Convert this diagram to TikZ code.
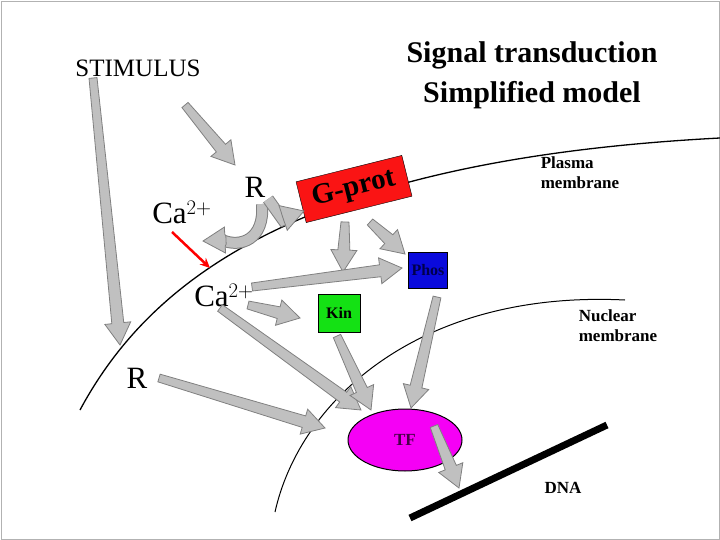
\documentclass[tikz,border=0pt]{standalone}
\usepackage{fontspec}
\setmainfont{Liberation Serif}
\usetikzlibrary{calc,positioning,shapes.geometric,arrows.meta}
\definecolor{silver}{RGB}{192,192,192}
\definecolor{gprot}{RGB}{250,20,20}
\definecolor{kin}{RGB}{20,225,20}
\definecolor{phos}{RGB}{10,10,220}
\definecolor{tf}{RGB}{245,0,245}
\tikzset{
	gfill/.style={fill=silver,draw=gray,line width=.8pt},
	gpath/.style={draw=gray,line width=12pt,postaction={draw=silver,line width=10pt}},
	lbl/.style={font=\bfseries\fontsize{17}{20}\selectfont,align=left},
	big/.style={font=\fontsize{31}{34}\selectfont},
	box/.style={draw=black,line width=1pt,inner sep=3pt,font=\bfseries\fontsize{16}{18}\selectfont},
}
% gray block arrow from #1 to #2
\newcommand\garrow[2]{%
	\path[gfill] ($(#1)!4pt!90:(#2)$)--($($(#2)!22pt!(#1)$)!6pt!90:(#2)$)
		--($($(#2)!22pt!(#1)$)!13pt!90:(#2)$)--(#2)
		--($($(#2)!22pt!(#1)$)!13pt!-90:(#2)$)--($($(#2)!22pt!(#1)$)!6pt!-90:(#2)$)
		--($(#1)!4pt!-90:(#2)$)--cycle;}
\begin{document}
\begin{tikzpicture}[x=1pt,y=-1pt]
	\useasboundingbox (0,0) rectangle (720,540);
	\draw[gray!60] (1,1) rectangle (719,539);
	% membranes
	\draw[line width=1.3pt] (80,410) .. controls (150,280) and (300,160) .. (720,138);
	\draw[line width=1pt] (275,512) .. controls (300,400) and (420,290) .. (625,300);
	\draw[line width=7pt] (410,518)--(607,425);
	% texts
	\node[font=\fontsize{25}{28}\selectfont] (stim) at (138,68) {STIMULUS};
	\node[font=\bfseries\fontsize{30}{40}\selectfont,align=center] (title) at (532,75) {Signal transduction\\Simplified model};
	\node[lbl] (plasma) at (580,173) {Plasma\\membrane};
	\node[lbl] (nuclear) at (618,326) {Nuclear\\membrane};
	\node[lbl] (dna) at (563,488) {DNA};
	\node[big] (r1) at (255,187) {R};
	\node[big] (r2) at (137,378) {R};
	\node[big] (ca1) at (182,212) {Ca$^{2+}$};
	\node[big] (ca2) at (224,295) {Ca$^{2+}$};
	% boxes
	\node[draw=black,fill=gprot,rotate=14,minimum width=109pt,minimum height=42pt,inner sep=0pt,
		font=\bfseries\fontsize{29}{30}\selectfont] (gp) at (354,189) {G-prot};
	\node[box,fill=phos,text=black!70!blue,minimum height=36pt] (phos) at (428,270) {Phos};
	\node[box,fill=kin,minimum width=42pt,minimum height=38pt] (kin) at (339,313) {Kin};
	\node[ellipse,draw=black,line width=1pt,fill=tf,minimum width=114pt,minimum height=62pt,
		font=\bfseries\fontsize{17}{19}\selectfont,text=black!70!tf] (tf) at (405,440) {TF};
	% arrow ends
	\coordinate (s1a) at (93,78);   \coordinate (s1b) at (120,345);
	\coordinate (s2a) at (185,105); \coordinate (s2b) at (235,165);
	\coordinate (g1a) at (345,222); \coordinate (g1b) at (343,272);
	\coordinate (g2a) at (370,222); \coordinate (g2b) at (405,254);
	\coordinate (c1a) at (252,287); \coordinate (c1b) at (402,268);
	\coordinate (c2a) at (248,305); \coordinate (c2b) at (300,318);
	\coordinate (c3a) at (220,308); \coordinate (c3b) at (361,410);
	\coordinate (r2a) at (159,378); \coordinate (r2b) at (325,428);
	\coordinate (k1a) at (337,336); \coordinate (k1b) at (371,410);
	\coordinate (p1a) at (437,297); \coordinate (p1b) at (411,408);
	\coordinate (t1a) at (434,426); \coordinate (t1b) at (459,488);
	\foreach \a/\b in {s1a/s1b,s2a/s2b,g1a/g1b,g2a/g2b,c1a/c1b,c2a/c2b,c3a/c3b,r2a/r2b,k1a/k1b,p1a/p1b,t1a/t1b}
		\garrow{\a}{\b};
	% R loops
	\draw[gpath] (262,204) .. controls (265,240) and (240,248) .. (222,240);
	\coordinate (l1a) at (226,240); \coordinate (l1b) at (203,241);
	\garrow{l1a}{l1b};
	\draw[gpath] (268,199)--(283,220)--(290,217);
	\coordinate (b1a) at (283,218); \coordinate (b1b) at (304,211);
	\garrow{b1a}{b1b};
	% calcium entry
	\coordinate (e1) at (172,232); \coordinate (e2) at (210,268);
	\draw[red,line width=2.5pt,-{Stealth[length=10pt,width=9pt]}] (e1)--(e2);
\end{tikzpicture}
\end{document}
